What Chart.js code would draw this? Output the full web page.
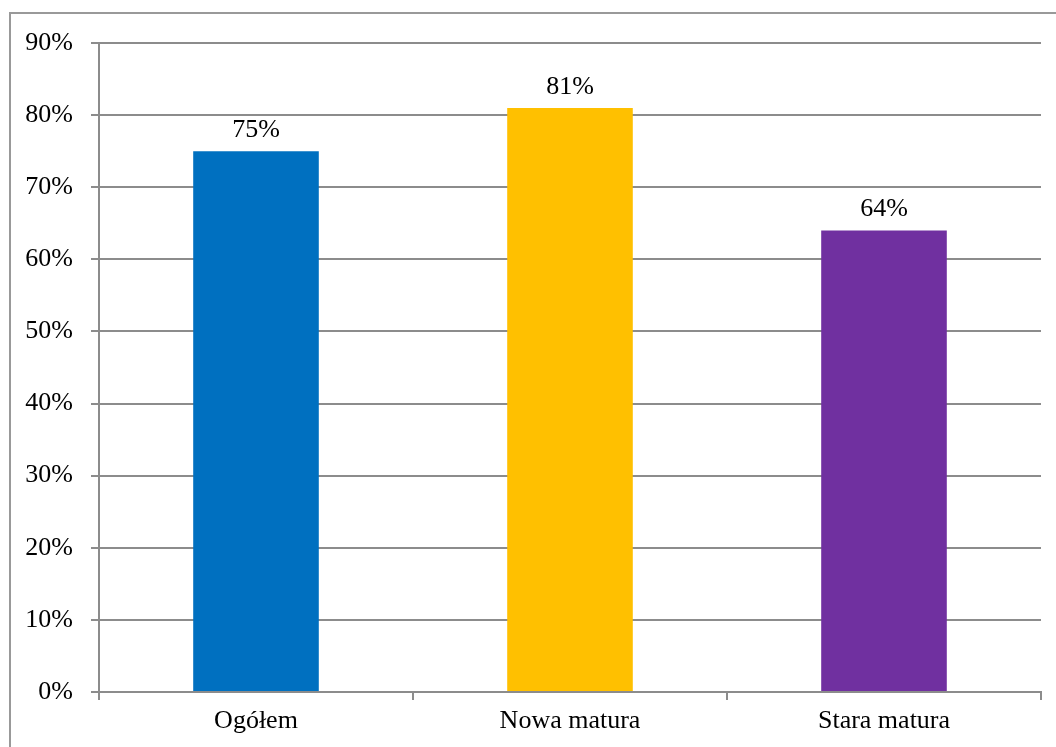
<!DOCTYPE html>
<html>
<head>
<meta charset="utf-8">
<script src="https://cdn.jsdelivr.net/npm/chart.js@4"></script>
<style>
  html, body { margin: 0; padding: 0; background: #fff; }
  #wrap { width: 1056px; height: 747px; }
</style>
</head>
<body>
<div id="wrap"><canvas id="chart" width="1056" height="747"></canvas></div>
<script>
const categories = ['Ogółem', 'Nowa matura', 'Stara matura'];
const values = [75, 81, 64];
const barColors = ['#0070C0', '#FFC000', '#7030A0'];
const yMax = 90;
const yStep = 10;

const serif = '"Liberation Serif", "Times New Roman", serif';
const lineGray = '#8c8c8c';

// frame around the whole chart (cut off on the right and bottom like the original)
const framePlugin = {
    id: 'frame',
    beforeDraw(chart) {
        const ctx = chart.ctx;
        ctx.save();
        ctx.strokeStyle = '#999';
        ctx.lineWidth = 2;
        ctx.strokeRect(10, 13, 2000, 2000);
        ctx.restore();
    }
};

// value labels above bars
const valueLabels = {
    id: 'valueLabels',
    afterDatasetsDraw(chart) {
        const ctx = chart.ctx;
        const meta = chart.getDatasetMeta(0);
        ctx.save();
        ctx.font = '26px ' + serif;
        ctx.fillStyle = '#000';
        ctx.textAlign = 'center';
        ctx.textBaseline = 'alphabetic';
        meta.data.forEach((bar, i) => {
            ctx.fillText(values[i] + '%', bar.x, bar.y - 14);
        });
        ctx.restore();
    }
};

const ctx = document.getElementById('chart').getContext('2d');
new Chart(ctx, {
    type: 'bar',
    data: {
        labels: categories,
        datasets: [{
            data: values,
            backgroundColor: barColors,
            borderWidth: 0,
            categoryPercentage: 1,
            barPercentage: 0.4
        }]
    },
    options: {
        responsive: false,
        animation: false,
        layout: { padding: { left: 0, top: 43, right: 15, bottom: 0 } },
        plugins: {
            legend: { display: false },
            tooltip: { enabled: false }
        },
        scales: {
            x: {
                grid: {
                    offset: true,
                    drawOnChartArea: false,
                    drawTicks: true,
                    tickLength: 8,
                    color: lineGray,
                    lineWidth: 2
                },
                border: { display: true, color: lineGray, width: 2 },
                ticks: {
                    color: '#000',
                    font: { family: serif, size: 26 },
                    padding: 6
                },
                afterFit: s => { s.height = 55; }
            },
            y: {
                min: 0,
                max: yMax,
                grid: {
                    color: lineGray,
                    lineWidth: 2,
                    tickLength: 8
                },
                border: { display: true, color: lineGray, width: 2 },
                ticks: {
                    stepSize: yStep,
                    color: '#000',
                    font: { family: serif, size: 26 },
                    padding: 18,
                    callback: v => v + '%'
                },
                afterFit: s => { s.width = 99; }
            }
        }
    },
    plugins: [framePlugin, valueLabels]
});
</script>
</body>
</html>
